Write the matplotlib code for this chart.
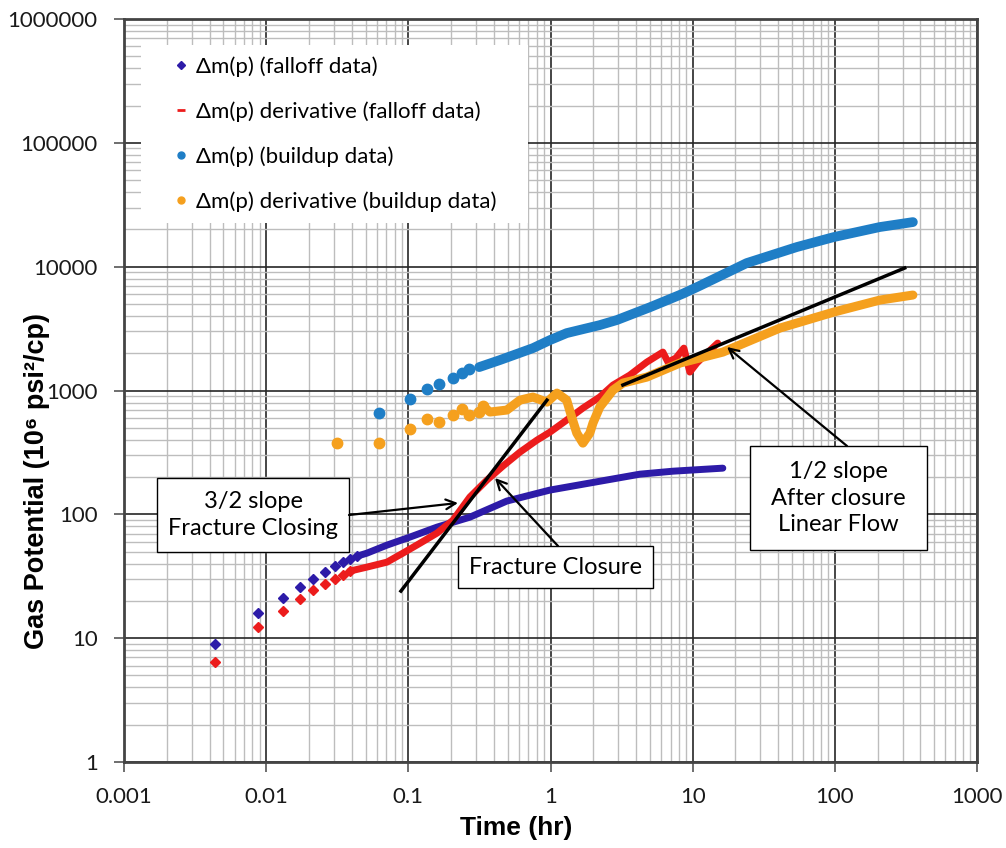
import matplotlib
matplotlib.use("Agg")
import matplotlib.pyplot as plt
from matplotlib.ticker import FixedLocator, FuncFormatter, LogLocator, NullFormatter
from matplotlib.patches import Rectangle

# ---- data (time in hr, gas potential in 10^6 psi2/cp) ----
# falloff dm(p): early single points, then the dense part
fo_t_pts = [0.00436, 0.00875, 0.0131, 0.0173, 0.0213, 0.0259, 0.0305, 0.0347, 0.0388, 0.0435]
fo_v_pts = [8.95, 15.9, 21.0, 25.8, 30.0, 34.1, 38.2, 41.1, 43.5, 45.9]
fo_t = [0.0435, 0.0512, 0.0707, 0.1026, 0.159, 0.271, 0.493, 0.991, 1.89, 4.25, 7.26, 16.3]
fo_v = [45.9, 48.6, 56.4, 65.5, 78.8, 94.9, 128, 157, 179, 211, 223, 236]

# falloff dm(p) derivative
fod_t_pts = [0.00436, 0.00875, 0.0131, 0.0173, 0.0213, 0.0259, 0.0305, 0.0347, 0.0388]
fod_v_pts = [6.40, 12.3, 16.5, 20.7, 24.4, 27.3, 30.0, 32.3, 34.8]
fod_t = [0.0388, 0.0512, 0.0707, 0.0916, 0.121, 0.159, 0.206, 0.271, 0.357, 0.462, 0.610,
         0.802, 0.991, 1.30, 1.69, 2.22, 2.75, 3.61, 4.76, 6.17, 6.70, 7.62, 8.67, 9.55,
         10.7, 12.2, 15.0]
fod_v = [34.8, 37.5, 41.1, 48.6, 58.5, 70.5, 89.7, 138, 189, 245, 318,
         397, 461, 577, 721, 886, 1106, 1331, 1696, 2042, 1696, 1828, 2198, 1409,
         1665, 1932, 2415]

# buildup dm(p)
bu_t_pts = [0.062, 0.1026, 0.135, 0.164, 0.206, 0.238, 0.267]
bu_v_pts = [656, 853, 1026, 1127, 1259, 1383, 1489]
bu_t = [0.315, 0.441, 0.752, 0.991, 1.30, 2.22, 2.93, 5.00, 8.53, 11.2, 24.0, 54.0, 98.4, 207, 354]
bu_v = [1545, 1762, 2198, 2553, 2907, 3373, 3707, 4700, 6050, 7000, 10690, 14400, 17340, 20890, 22910]

# buildup dm(p) derivative
bud_t_pts = [0.0315, 0.062, 0.1026, 0.135, 0.164, 0.206, 0.238, 0.267, 0.315, 0.335]
bud_v_pts = [376, 376, 488, 587, 556, 633, 708, 633, 670, 748]
bud_t = [0.335, 0.375, 0.493, 0.610, 0.752, 0.944, 1.11, 1.30, 1.41, 1.53, 1.69, 1.89, 1.99,
         2.22, 2.75, 3.23, 4.76, 8.13, 16.3, 41.0, 98.4, 207, 354]
bud_v = [748, 670, 695, 836, 885, 806, 953, 836, 609, 453, 376, 453, 546,
         734, 1007, 1148, 1283, 1665, 2042, 3190, 4300, 5370, 5900]

# straight-line fits drawn on the plot
slope32_t = [0.0887, 0.944]
slope32_v = [24, 836]
slope12_t = [3.23, 310]
slope12_v = [1107, 9750]

labels = ["\u0394m(p) (falloff data)", "\u0394m(p) derivative (falloff data)",
          "\u0394m(p) (buildup data)", "\u0394m(p) derivative (buildup data)"]
notes = ["3/2 slope\nFracture Closing", "Fracture Closure", "1/2 slope\nAfter closure\nLinear Flow"]

c_purple = "#2D1BA8"
c_red = "#EC1C1C"
c_blue = "#1F7EC6"
c_orange = "#F5A01E"

body_font = ["Lato", "DejaVu Sans"]
title_font = ["Liberation Sans", "DejaVu Sans"]

W, H = 1006, 848
X0, X1, Y0, Y1 = 124, 977, 19, 762   # plot area in pixels


def frac(px, py):
    # picture pixel -> axes fraction
    return ((px - X0) / (X1 - X0), (Y1 - py) / (Y1 - Y0))


fig = plt.figure(figsize=(W / 100, H / 100), dpi=100)
ax = fig.add_axes([X0 / W, 1 - Y1 / H, (X1 - X0) / W, (Y1 - Y0) / H])
ax.set_xscale("log")
ax.set_yscale("log")
ax.set_xlim(0.001, 1000)
ax.set_ylim(1, 1000000)

# series
ax.plot(fo_t, fo_v, "-", color=c_purple, lw=5, solid_capstyle="round", zorder=2)
ax.plot(fo_t_pts, fo_v_pts, "D", color=c_purple, ms=5.5, ls="none", zorder=2)
ax.plot(fod_t, fod_v, "-", color=c_red, lw=5, solid_capstyle="round", zorder=2.1)
ax.plot(fod_t_pts, fod_v_pts, "D", color=c_red, ms=5.5, ls="none", zorder=2.1)
ax.plot(bu_t, bu_v, "-", color=c_blue, lw=7, solid_capstyle="round", zorder=2.2)
ax.plot(bu_t_pts, bu_v_pts, "o", color=c_blue, ms=7.5, ls="none", zorder=2.2)
ax.plot(bud_t, bud_v, "-", color=c_orange, lw=6.5, solid_capstyle="round", zorder=2.3)
ax.plot(bud_t_pts, bud_v_pts, "o", color=c_orange, ms=7.5, ls="none", zorder=2.3)

ax.plot(slope32_t, slope32_v, "-", color="black", lw=2.5, zorder=4)
ax.plot(slope12_t, slope12_v, "-", color="black", lw=2.5, zorder=4)

# legend handles (markers only)
h1, = ax.plot([], [], "D", color=c_purple, ms=4.5)
h2, = ax.plot([], [], "_", color=c_red, ms=6, mew=2)
h3, = ax.plot([], [], "o", color=c_blue, ms=5)
h4, = ax.plot([], [], "o", color=c_orange, ms=5)

# white block behind legend
lx, ly = frac(141, 223)
lx2, ly2 = frac(528, 45)
ax.add_patch(Rectangle((lx, ly), lx2 - lx, ly2 - ly, transform=ax.transAxes,
                       facecolor="white", edgecolor="none", zorder=1))
leg = ax.legend([h1, h2, h3, h4], labels, loc="upper left", bbox_to_anchor=(0.049, 0.962),
                frameon=False, handlelength=0.6, handletextpad=0.35, labelspacing=1.1,
                borderaxespad=0, prop={"family": body_font, "size": 16})
leg.set_zorder(5)

# grid and axes
ax.set_axisbelow(True)
ax.xaxis.set_minor_locator(LogLocator(base=10, subs=range(2, 10), numticks=20))
ax.yaxis.set_minor_locator(LogLocator(base=10, subs=range(2, 10), numticks=20))
ax.xaxis.set_minor_formatter(NullFormatter())
ax.yaxis.set_minor_formatter(NullFormatter())
ax.xaxis.set_major_locator(FixedLocator([0.001, 0.01, 0.1, 1, 10, 100, 1000]))
ax.yaxis.set_major_locator(FixedLocator([1, 10, 100, 1000, 10000, 100000, 1000000]))
fmt = FuncFormatter(lambda v, _: f"{v:.10g}")
ax.xaxis.set_major_formatter(fmt)
ax.yaxis.set_major_formatter(fmt)
ax.grid(True, which="major", color="#262626", lw=1.2)
ax.grid(True, which="minor", color="#BDBDBD", lw=1.0)
ax.tick_params(which="major", direction="out", length=7, width=1.2, color="#555555",
               labelsize=16, labelcolor="#1a1a1a")
ax.tick_params(axis="y", which="major", pad=12)
ax.tick_params(axis="x", which="major", pad=11)
ax.tick_params(which="minor", length=0)
for lab in ax.get_xticklabels() + ax.get_yticklabels():
    lab.set_family(body_font)
for s in ax.spines.values():
    s.set_color("#444444")
    s.set_linewidth(2)

ax.set_xlabel("Time (hr)", family=title_font, fontweight="bold", fontsize=19)
ax.set_ylabel("Gas Potential (10\u2076 psi\u00b2/cp)", family=title_font, fontweight="bold",
              fontsize=19.5)
ax.xaxis.set_label_coords(*frac(516, 816))
ax.yaxis.set_label_coords(*frac(50, 481))

# annotation boxes (pixel rectangles of the reference) and arrows
boxes = [(157, 478, 349, 552), (458, 546, 653, 588), (750, 446, 927, 550)]
for (bx0, by0, bx1, by1), txt in zip(boxes, notes):
    fx0, fy0 = frac(bx0, by1)
    fx1, fy1 = frac(bx1, by0)
    ax.add_patch(Rectangle((fx0, fy0), fx1 - fx0, fy1 - fy0, transform=ax.transAxes,
                           facecolor="white", edgecolor="black", lw=1.0, zorder=6))
    ax.text((fx0 + fx1) / 2, (fy0 + fy1) / 2, txt, transform=ax.transAxes, ha="center",
            va="center", family=body_font, fontsize=17, linespacing=1.3, zorder=7)

arrow = dict(arrowstyle="->,head_length=0.7,head_width=0.35", color="black", lw=1.6,
             shrinkA=0, shrinkB=0)
arrows = [((349, 515), (458, 503)), ((558, 546), (495, 478)), ((847, 446), (727, 347))]
for start, tip in arrows:
    ax.annotate("", xy=frac(*tip), xytext=frac(*start), xycoords="axes fraction",
                textcoords="axes fraction", arrowprops=arrow, zorder=7)

fig.savefig("out.png", dpi=100)
